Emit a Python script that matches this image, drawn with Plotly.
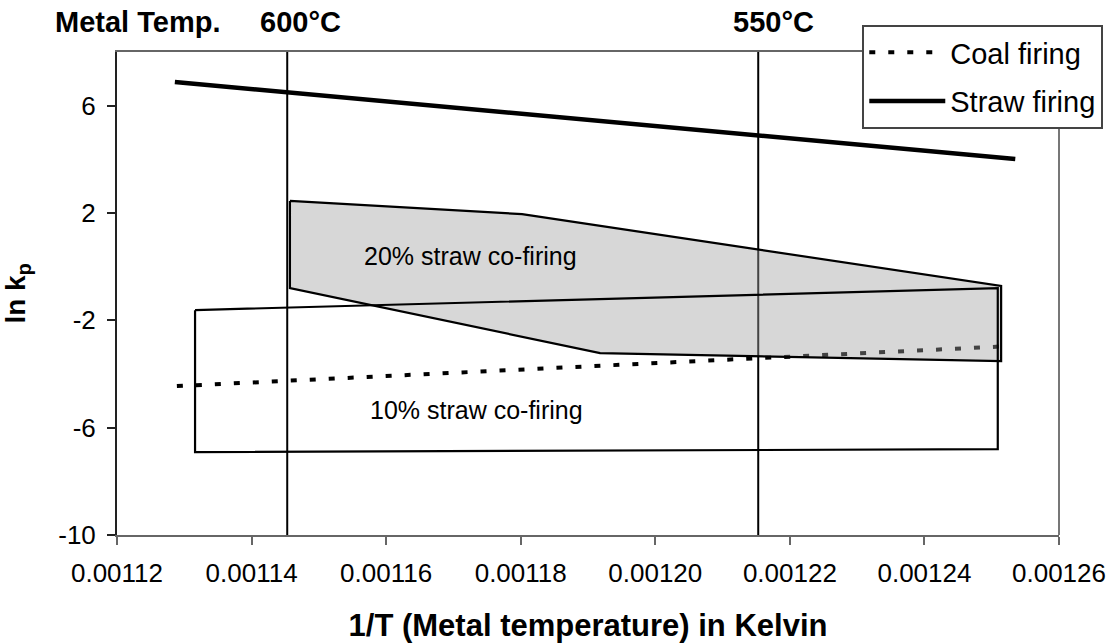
import plotly.graph_objects as go

# Parabolic rate constants (ln kp) vs reciprocal metal temperature
straw_x = [0.0011286, 0.0012535]
straw_y = [6.88, 4.01]

coal_x = [0.0011289, 0.0012527]
coal_y = [-4.45, -2.96]

# Envelope of 20 % straw co-firing (closed outline)
cofire20_x = [0.0011457, 0.0011802, 0.0012514, 0.0012514, 0.0011918, 0.0011457, 0.0011457]
cofire20_y = [2.45, 1.96, -0.72, -3.52, -3.22, -0.80, 2.45]

# Envelope of 10 % straw co-firing (closed outline)
cofire10_x = [0.0011316, 0.0012509, 0.0012509, 0.0011316, 0.0011316]
cofire10_y = [-1.62, -0.80, -6.80, -6.91, -1.62]

# Metal temperature markers: 600 °C and 550 °C
marker_labels = ["600°C", "550°C"]
marker_x = [0.0011453, 0.0012153]

x_ticks = [0.00112, 0.00114, 0.00116, 0.00118, 0.00120, 0.00122, 0.00124, 0.00126]
x_tick_text = ["0.00112", "0.00114", "0.00116", "0.00118", "0.00120", "0.00122", "0.00124", "0.00126"]
y_ticks = [-10, -6, -2, 2, 6]
y_tick_text = ["-10", "-6", "-2", "2", "6"]

FONT = "Liberation Sans, Arial, sans-serif"

fig = go.Figure()

fig.add_trace(go.Scatter(
    x=coal_x, y=coal_y, mode="lines", name="Coal firing", legendgroup="coal",
    line=dict(color="black", width=4, dash="6px,13px"),
))

fig.add_trace(go.Scatter(
    x=cofire20_x, y=cofire20_y, mode="lines", fill="toself",
    fillcolor="rgba(160,160,160,0.42)", showlegend=False, hoverinfo="skip",
    line=dict(color="black", width=2.2),
))

fig.add_trace(go.Scatter(
    x=cofire10_x, y=cofire10_y, mode="lines", showlegend=False, hoverinfo="skip",
    line=dict(color="black", width=2.2),
))

fig.add_trace(go.Scatter(
    x=straw_x, y=straw_y, mode="lines", name="Straw firing", legendgroup="straw",
    line=dict(color="black", width=4.5),
))

for xv in marker_x:
    fig.add_shape(type="line", xref="x", yref="paper", x0=xv, x1=xv, y0=0, y1=1,
                  line=dict(color="black", width=2), layer="below")

# right border of the plot frame
fig.add_shape(type="line", xref="paper", yref="paper", x0=1, x1=1, y0=0, y1=1,
              line=dict(color="#777777", width=2))

fig.add_annotation(text="20% straw co-firing", x=0.0011726, y=0.40, xref="x", yref="y",
                   showarrow=False, font=dict(size=25, color="black", family=FONT))
fig.add_annotation(text="10% straw co-firing", x=0.0011735, y=-5.34, xref="x", yref="y",
                   showarrow=False, font=dict(size=25, color="black", family=FONT))

fig.add_annotation(text="<b>Metal Temp.</b>", x=-0.068, y=1.062, xref="paper", yref="paper",
                   xanchor="left", yanchor="middle", showarrow=False,
                   font=dict(size=29, color="black", family=FONT))
fig.add_annotation(text="<b>" + marker_labels[0] + "</b>", x=0.0011472, y=1.062, xref="x", yref="paper",
                   xanchor="center", yanchor="middle", showarrow=False,
                   font=dict(size=29, color="black", family=FONT))
fig.add_annotation(text="<b>" + marker_labels[1] + "</b>", x=0.0012175, y=1.062, xref="x", yref="paper",
                   xanchor="center", yanchor="middle", showarrow=False,
                   font=dict(size=29, color="black", family=FONT))

fig.update_layout(
    width=1114, height=643,
    margin=dict(l=117, r=55, t=52, b=108, autoexpand=False),
    paper_bgcolor="white", plot_bgcolor="white",
    font=dict(family=FONT, color="black", size=26),
    showlegend=True,
    legend=dict(
        x=1.047, y=1.056, xanchor="right", yanchor="top",
        bgcolor="white", bordercolor="#444444", borderwidth=2,
        font=dict(size=29, color="black", family=FONT),
        itemwidth=76, tracegroupgap=8,
    ),
    xaxis=dict(
        range=[0.00112, 0.00126], tickvals=x_ticks, ticktext=x_tick_text,
        showgrid=False, zeroline=False, automargin=False,
        showline=True, linecolor="#666666", linewidth=2, mirror=True,
        ticks="outside", ticklen=8, tickwidth=1.5, tickcolor="#666666",
        tickfont=dict(size=26, color="black"), ticklabelstandoff=6,
        title=dict(text="<b>1/T (Metal temperature) in Kelvin</b>",
                   font=dict(size=31, color="black"), standoff=27),
    ),
    yaxis=dict(
        range=[-10, 8], tickvals=y_ticks, ticktext=y_tick_text,
        showgrid=False, zeroline=False, automargin=False,
        showline=True, linecolor="#222222", linewidth=2,
        ticks="outside", ticklen=8, tickwidth=1.5, tickcolor="#222222",
        tickfont=dict(size=26, color="black"), ticklabelstandoff=6,
        title=dict(text="<b>ln k<sub>p</sub></b>",
                   font=dict(size=28, color="black"), standoff=24),
    ),
)

fig.write_html("out.html")
